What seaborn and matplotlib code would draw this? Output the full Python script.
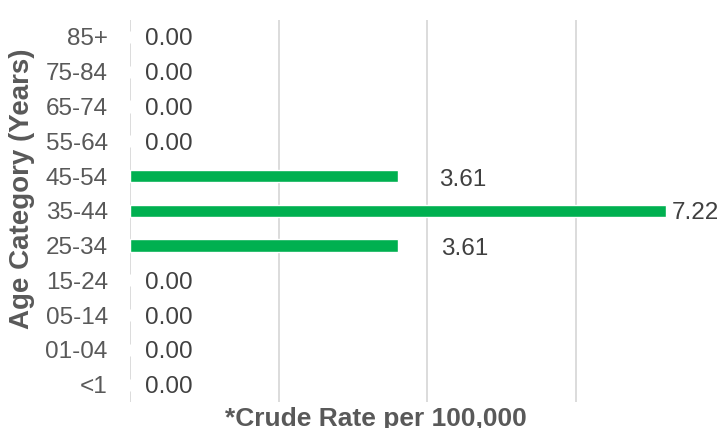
import matplotlib
matplotlib.use("Agg")
import matplotlib.pyplot as plt
import seaborn as sns
import pandas as pd

# Data (top to bottom)
age_groups = ["85+", "75-84", "65-74", "55-64", "45-54", "35-44",
              "25-34", "15-24", "05-14", "01-04", "<1"]
crude_rates = [0.00, 0.00, 0.00, 0.00, 3.61, 7.22, 3.61, 0.00, 0.00, 0.00, 0.00]
# label offsets (pixels) as Excel placed them
label_dx = [15, 15, 15, 15, 41, 6, 43, 15, 15, 15, 15]
label_dy = [0, 0, 0, 0, -1, 0, -1, 0, 0, 0, 0]

sns.set_style("white")
plt.rcParams["font.family"] = ["Liberation Sans", "DejaVu Sans"]

df = pd.DataFrame({"Age": age_groups, "Rate": crude_rates})

fig = plt.figure(figsize=(7.2, 4.28), dpi=100)
ax = fig.add_axes([130 / 720, 1 - 402 / 428, 594 / 720, 382.4 / 428])

sns.barplot(data=df, x="Rate", y="Age", order=age_groups, color="#00B050",
            width=0.35, saturation=1, ax=ax)

ax.set_xlim(0, 8)
ax.set_xticks([0, 2, 4, 6, 8])
ax.set_xticklabels([])
ax.grid(axis="x", color="#D9D9D9", linewidth=1.3)
ax.set_axisbelow(True)
for s in ax.spines.values():
    s.set_visible(False)
ax.tick_params(axis="y", length=0, pad=16, labelsize=17.5, labelcolor="#595959")
ax.tick_params(axis="x", length=0)
ax.set_xlabel("")
ax.set_ylabel("")

for i, v in enumerate(crude_rates):
    ax.annotate(f"{v:.2f}", (v, i), xytext=(label_dx[i], label_dy[i]),
                textcoords="offset pixels", ha="left", va="center_baseline",
                fontsize=17.5, color="#404040")

fig.text(22 / 720, 1 - 189 / 428, "Age Category (Years)", rotation=90,
         ha="center", va="center", fontsize=20, fontweight="bold", color="#595959")
fig.text(376 / 720, 1 - 407 / 428, "*Crude Rate per 100,000", ha="center",
         va="top", fontsize=19, fontweight="bold", color="#595959")

fig.savefig("out.png", dpi=100)
